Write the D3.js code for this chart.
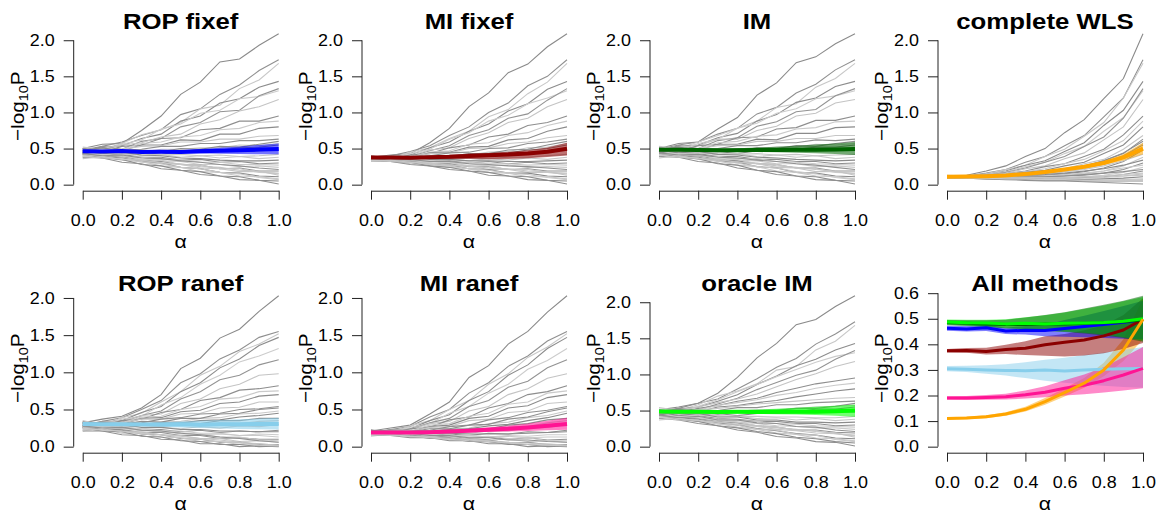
<!DOCTYPE html>
<html>
<head>
<meta charset="utf-8">
<script src="https://cdn.jsdelivr.net/npm/d3@7"></script>
<style>
  body { margin: 0; background: #fff; }
  text { font-family: "Liberation Sans", Arial, sans-serif; fill: #000; }
</style>
</head>
<body>
<svg id="chart" width="1162" height="516"></svg>
<script>
// alpha grid shared by every series
const alphas = [0, 0.1, 0.2, 0.3, 0.4, 0.5, 0.6, 0.7, 0.8, 0.9, 1.0];

const methods = ["ROP fixef", "MI fixef", "IM", "complete WLS", "ROP ranef", "MI ranef", "oracle IM"];

// mean -log10 P per method, and its band
const meanRopFixef = [0.463, 0.460, 0.465, 0.452, 0.455, 0.454, 0.462, 0.470, 0.478, 0.486, 0.495];
const lowRopFixef  = [0.453, 0.450, 0.452, 0.440, 0.438, 0.432, 0.430, 0.428, 0.425, 0.422, 0.420];
const highRopFixef = [0.473, 0.472, 0.478, 0.465, 0.472, 0.476, 0.495, 0.512, 0.530, 0.550, 0.570];

const meanMiFixef = [0.375, 0.376, 0.372, 0.380, 0.385, 0.398, 0.408, 0.417, 0.433, 0.456, 0.498];
const lowMiFixef  = [0.368, 0.367, 0.360, 0.362, 0.358, 0.355, 0.352, 0.356, 0.365, 0.382, 0.405];
const highMiFixef = [0.382, 0.386, 0.387, 0.398, 0.412, 0.432, 0.440, 0.455, 0.475, 0.515, 0.580];

const meanIm = [0.485, 0.482, 0.480, 0.478, 0.478, 0.480, 0.480, 0.482, 0.484, 0.488, 0.495];
const lowIm  = [0.475, 0.472, 0.468, 0.462, 0.458, 0.452, 0.448, 0.442, 0.435, 0.425, 0.410];
const highIm = [0.495, 0.494, 0.494, 0.496, 0.505, 0.515, 0.525, 0.540, 0.555, 0.570, 0.590];

const meanWls = [0.110, 0.112, 0.117, 0.128, 0.146, 0.176, 0.211, 0.248, 0.300, 0.378, 0.498];
const lowWls  = [0.106, 0.107, 0.111, 0.121, 0.137, 0.164, 0.196, 0.230, 0.275, 0.335, 0.420];
const highWls = [0.115, 0.117, 0.123, 0.135, 0.156, 0.190, 0.228, 0.268, 0.328, 0.420, 0.580];

const meanRopRanef = [0.305, 0.303, 0.300, 0.298, 0.297, 0.300, 0.296, 0.300, 0.303, 0.305, 0.306];
const lowRopRanef  = [0.295, 0.292, 0.285, 0.278, 0.268, 0.258, 0.250, 0.243, 0.238, 0.233, 0.230];
const highRopRanef = [0.315, 0.316, 0.318, 0.322, 0.330, 0.340, 0.348, 0.358, 0.368, 0.378, 0.390];

const meanMiRanef = [0.190, 0.190, 0.192, 0.195, 0.203, 0.213, 0.228, 0.240, 0.258, 0.280, 0.306];
const lowMiRanef  = [0.183, 0.182, 0.183, 0.184, 0.188, 0.193, 0.200, 0.205, 0.212, 0.220, 0.228];
const highMiRanef = [0.197, 0.198, 0.202, 0.207, 0.220, 0.236, 0.260, 0.282, 0.310, 0.350, 0.390];

const meanOracle = [0.487, 0.484, 0.483, 0.480, 0.482, 0.480, 0.482, 0.483, 0.485, 0.490, 0.500];
const lowOracle  = [0.477, 0.473, 0.470, 0.464, 0.460, 0.454, 0.450, 0.445, 0.438, 0.428, 0.415];
const highOracle = [0.497, 0.496, 0.496, 0.498, 0.506, 0.514, 0.524, 0.538, 0.552, 0.568, 0.585];

// individual simulation runs, one row per run
const ropFixefLines = [
  [0.50, 0.56, 0.57, 0.75, 0.95, 1.25, 1.42, 1.70, 1.74, 1.93, 2.09],
  [0.48, 0.53, 0.59, 0.68, 0.76, 0.97, 1.05, 1.25, 1.38, 1.58, 1.73],
  [0.52, 0.49, 0.57, 0.69, 0.76, 0.86, 1.05, 1.10, 1.33, 1.45, 1.68],
  [0.45, 0.51, 0.54, 0.64, 0.70, 0.88, 0.95, 1.13, 1.19, 1.35, 1.43],
  [0.50, 0.47, 0.56, 0.62, 0.77, 0.84, 0.99, 1.03, 1.19, 1.22, 1.30],
  [0.44, 0.53, 0.49, 0.60, 0.64, 0.80, 0.86, 1.01, 1.03, 1.23, 1.33],
  [0.47, 0.50, 0.55, 0.58, 0.66, 0.70, 0.84, 0.90, 1.02, 1.08, 1.18],
  [0.50, 0.45, 0.53, 0.55, 0.64, 0.65, 0.76, 0.78, 0.88, 0.88, 0.95],
  [0.42, 0.48, 0.49, 0.57, 0.59, 0.66, 0.68, 0.76, 0.78, 0.86, 0.88],
  [0.48, 0.51, 0.47, 0.55, 0.55, 0.62, 0.61, 0.70, 0.70, 0.78, 0.80],
  [0.45, 0.48, 0.49, 0.53, 0.54, 0.59, 0.59, 0.63, 0.63, 0.67, 0.68],
  [0.50, 0.47, 0.48, 0.49, 0.53, 0.53, 0.57, 0.57, 0.61, 0.61, 0.63],
  [0.46, 0.44, 0.49, 0.45, 0.49, 0.49, 0.51, 0.51, 0.55, 0.54, 0.57],
  [0.43, 0.46, 0.43, 0.45, 0.42, 0.46, 0.45, 0.46, 0.46, 0.47, 0.48],
  [0.48, 0.43, 0.44, 0.40, 0.42, 0.38, 0.40, 0.37, 0.39, 0.36, 0.38],
  [0.45, 0.41, 0.42, 0.38, 0.38, 0.34, 0.35, 0.31, 0.32, 0.29, 0.30],
  [0.40, 0.43, 0.38, 0.38, 0.33, 0.32, 0.28, 0.28, 0.25, 0.26, 0.24],
  [0.42, 0.39, 0.39, 0.34, 0.32, 0.28, 0.27, 0.22, 0.23, 0.19, 0.19],
  [0.38, 0.41, 0.36, 0.34, 0.29, 0.28, 0.23, 0.22, 0.18, 0.18, 0.15],
  [0.44, 0.39, 0.37, 0.32, 0.30, 0.24, 0.22, 0.17, 0.16, 0.12, 0.11],
  [0.40, 0.39, 0.34, 0.32, 0.26, 0.24, 0.18, 0.17, 0.12, 0.11, 0.08],
  [0.42, 0.37, 0.35, 0.28, 0.26, 0.20, 0.18, 0.12, 0.11, 0.06, 0.05],
  [0.38, 0.37, 0.31, 0.29, 0.22, 0.20, 0.14, 0.12, 0.07, 0.06, 0.01],
  [0.46, 0.41, 0.40, 0.35, 0.34, 0.28, 0.27, 0.22, 0.22, 0.17, 0.16],
  [0.44, 0.47, 0.45, 0.48, 0.46, 0.50, 0.49, 0.53, 0.52, 0.56, 0.60],
  [0.41, 0.44, 0.42, 0.43, 0.41, 0.42, 0.40, 0.41, 0.39, 0.40, 0.42],
  [0.47, 0.43, 0.45, 0.41, 0.40, 0.37, 0.36, 0.34, 0.33, 0.33, 0.34],
  [0.39, 0.42, 0.39, 0.38, 0.35, 0.35, 0.31, 0.31, 0.28, 0.28, 0.27],
  [0.43, 0.40, 0.41, 0.37, 0.36, 0.33, 0.31, 0.28, 0.26, 0.23, 0.21],
  [0.36, 0.39, 0.35, 0.34, 0.30, 0.29, 0.25, 0.24, 0.20, 0.19, 0.13],
  [0.48, 0.46, 0.47, 0.45, 0.47, 0.46, 0.49, 0.48, 0.51, 0.52, 0.55],
  [0.40, 0.37, 0.36, 0.31, 0.29, 0.24, 0.22, 0.17, 0.15, 0.10, 0.07]
];

const miFixefLines = [
  [0.38, 0.41, 0.43, 0.58, 0.78, 1.08, 1.27, 1.55, 1.67, 1.91, 2.09],
  [0.36, 0.40, 0.46, 0.54, 0.68, 0.80, 1.00, 1.13, 1.37, 1.50, 1.73],
  [0.40, 0.37, 0.45, 0.51, 0.64, 0.74, 0.94, 1.04, 1.26, 1.42, 1.68],
  [0.35, 0.39, 0.41, 0.51, 0.59, 0.74, 0.84, 1.02, 1.12, 1.32, 1.43],
  [0.39, 0.36, 0.43, 0.49, 0.63, 0.72, 0.88, 0.96, 1.12, 1.20, 1.30],
  [0.34, 0.40, 0.39, 0.47, 0.54, 0.68, 0.76, 0.92, 0.98, 1.17, 1.33],
  [0.37, 0.39, 0.40, 0.48, 0.51, 0.64, 0.72, 0.86, 0.92, 1.08, 1.18],
  [0.40, 0.35, 0.41, 0.43, 0.51, 0.55, 0.66, 0.70, 0.82, 0.86, 0.95],
  [0.33, 0.38, 0.38, 0.45, 0.47, 0.56, 0.58, 0.68, 0.72, 0.82, 0.88],
  [0.38, 0.39, 0.37, 0.44, 0.45, 0.52, 0.53, 0.62, 0.64, 0.74, 0.80],
  [0.36, 0.38, 0.39, 0.43, 0.44, 0.50, 0.51, 0.57, 0.59, 0.65, 0.68],
  [0.39, 0.37, 0.39, 0.40, 0.44, 0.45, 0.50, 0.51, 0.57, 0.59, 0.63],
  [0.37, 0.35, 0.39, 0.37, 0.41, 0.41, 0.45, 0.46, 0.51, 0.52, 0.57],
  [0.35, 0.37, 0.34, 0.37, 0.36, 0.39, 0.39, 0.42, 0.42, 0.46, 0.48],
  [0.38, 0.34, 0.36, 0.33, 0.35, 0.33, 0.36, 0.34, 0.37, 0.35, 0.38],
  [0.36, 0.33, 0.35, 0.32, 0.33, 0.30, 0.32, 0.29, 0.31, 0.29, 0.30],
  [0.33, 0.36, 0.32, 0.33, 0.29, 0.29, 0.26, 0.27, 0.24, 0.25, 0.24],
  [0.35, 0.32, 0.33, 0.29, 0.29, 0.25, 0.25, 0.21, 0.22, 0.19, 0.19],
  [0.32, 0.35, 0.31, 0.30, 0.26, 0.26, 0.21, 0.21, 0.17, 0.17, 0.15],
  [0.36, 0.33, 0.32, 0.28, 0.27, 0.22, 0.21, 0.16, 0.16, 0.12, 0.11],
  [0.34, 0.33, 0.29, 0.29, 0.24, 0.22, 0.17, 0.16, 0.11, 0.11, 0.08],
  [0.35, 0.32, 0.31, 0.26, 0.24, 0.19, 0.17, 0.12, 0.11, 0.06, 0.05],
  [0.33, 0.32, 0.28, 0.26, 0.21, 0.19, 0.13, 0.12, 0.07, 0.06, 0.01],
  [0.38, 0.35, 0.35, 0.31, 0.31, 0.26, 0.26, 0.21, 0.21, 0.17, 0.16],
  [0.36, 0.38, 0.37, 0.40, 0.39, 0.43, 0.43, 0.48, 0.49, 0.55, 0.60],
  [0.34, 0.36, 0.35, 0.36, 0.35, 0.37, 0.36, 0.38, 0.38, 0.40, 0.42],
  [0.39, 0.36, 0.38, 0.35, 0.35, 0.33, 0.33, 0.32, 0.32, 0.33, 0.34],
  [0.33, 0.35, 0.33, 0.33, 0.31, 0.31, 0.29, 0.29, 0.27, 0.28, 0.27],
  [0.36, 0.34, 0.35, 0.32, 0.32, 0.29, 0.28, 0.26, 0.25, 0.23, 0.21],
  [0.32, 0.34, 0.31, 0.30, 0.27, 0.26, 0.23, 0.22, 0.19, 0.18, 0.13],
  [0.38, 0.37, 0.38, 0.38, 0.40, 0.40, 0.43, 0.44, 0.48, 0.50, 0.55],
  [0.34, 0.32, 0.31, 0.28, 0.26, 0.22, 0.20, 0.16, 0.14, 0.10, 0.07]
];

const imLines = [
  [0.50, 0.57, 0.59, 0.77, 0.93, 1.24, 1.41, 1.69, 1.77, 1.95, 2.09],
  [0.49, 0.55, 0.59, 0.70, 0.78, 0.98, 1.07, 1.27, 1.39, 1.59, 1.73],
  [0.53, 0.50, 0.59, 0.68, 0.78, 0.88, 1.07, 1.12, 1.35, 1.47, 1.68],
  [0.46, 0.53, 0.55, 0.65, 0.71, 0.88, 0.97, 1.14, 1.20, 1.36, 1.43],
  [0.51, 0.48, 0.57, 0.63, 0.78, 0.85, 0.99, 1.05, 1.19, 1.23, 1.30],
  [0.45, 0.54, 0.50, 0.61, 0.65, 0.81, 0.87, 1.01, 1.04, 1.23, 1.33],
  [0.48, 0.52, 0.54, 0.63, 0.63, 0.75, 0.81, 0.95, 0.99, 1.13, 1.18],
  [0.51, 0.46, 0.54, 0.56, 0.65, 0.66, 0.77, 0.79, 0.89, 0.89, 0.95],
  [0.43, 0.49, 0.50, 0.58, 0.60, 0.67, 0.69, 0.77, 0.79, 0.87, 0.88],
  [0.49, 0.52, 0.48, 0.56, 0.56, 0.63, 0.62, 0.71, 0.71, 0.79, 0.80],
  [0.46, 0.49, 0.50, 0.54, 0.55, 0.60, 0.60, 0.64, 0.64, 0.68, 0.68],
  [0.51, 0.48, 0.49, 0.50, 0.54, 0.54, 0.58, 0.58, 0.62, 0.61, 0.63],
  [0.47, 0.45, 0.50, 0.46, 0.50, 0.50, 0.52, 0.52, 0.56, 0.55, 0.57],
  [0.44, 0.47, 0.44, 0.46, 0.43, 0.47, 0.46, 0.47, 0.47, 0.48, 0.48],
  [0.49, 0.44, 0.45, 0.41, 0.43, 0.39, 0.41, 0.38, 0.40, 0.36, 0.38],
  [0.46, 0.42, 0.43, 0.39, 0.39, 0.35, 0.35, 0.32, 0.32, 0.29, 0.30],
  [0.41, 0.44, 0.39, 0.39, 0.34, 0.33, 0.29, 0.29, 0.25, 0.26, 0.24],
  [0.43, 0.40, 0.40, 0.35, 0.33, 0.29, 0.28, 0.23, 0.23, 0.19, 0.19],
  [0.39, 0.42, 0.37, 0.35, 0.30, 0.29, 0.24, 0.23, 0.18, 0.18, 0.15],
  [0.45, 0.40, 0.38, 0.33, 0.31, 0.25, 0.23, 0.17, 0.16, 0.12, 0.11],
  [0.41, 0.40, 0.35, 0.33, 0.27, 0.25, 0.19, 0.17, 0.12, 0.11, 0.08],
  [0.43, 0.38, 0.36, 0.29, 0.27, 0.20, 0.18, 0.12, 0.11, 0.06, 0.05],
  [0.39, 0.38, 0.32, 0.30, 0.23, 0.20, 0.14, 0.12, 0.07, 0.06, 0.01],
  [0.47, 0.42, 0.41, 0.36, 0.35, 0.29, 0.28, 0.23, 0.22, 0.17, 0.16],
  [0.45, 0.48, 0.46, 0.49, 0.47, 0.51, 0.50, 0.54, 0.53, 0.57, 0.60],
  [0.42, 0.45, 0.43, 0.44, 0.42, 0.43, 0.41, 0.42, 0.40, 0.41, 0.42],
  [0.48, 0.44, 0.46, 0.42, 0.41, 0.38, 0.37, 0.35, 0.34, 0.33, 0.34],
  [0.40, 0.43, 0.40, 0.39, 0.36, 0.36, 0.32, 0.31, 0.29, 0.28, 0.27],
  [0.44, 0.41, 0.42, 0.38, 0.37, 0.34, 0.32, 0.29, 0.27, 0.24, 0.21],
  [0.37, 0.40, 0.36, 0.35, 0.31, 0.30, 0.26, 0.24, 0.21, 0.19, 0.13],
  [0.49, 0.47, 0.48, 0.46, 0.48, 0.47, 0.50, 0.49, 0.52, 0.52, 0.55],
  [0.41, 0.38, 0.37, 0.32, 0.30, 0.25, 0.23, 0.18, 0.15, 0.10, 0.07]
];

const wlsLines = [
  [0.12, 0.13, 0.19, 0.26, 0.39, 0.50, 0.72, 0.90, 1.19, 1.47, 2.09],
  [0.11, 0.12, 0.16, 0.21, 0.31, 0.39, 0.54, 0.68, 0.94, 1.20, 1.73],
  [0.13, 0.12, 0.15, 0.21, 0.27, 0.39, 0.49, 0.67, 0.86, 1.20, 1.68],
  [0.10, 0.12, 0.14, 0.19, 0.27, 0.33, 0.46, 0.58, 0.82, 1.03, 1.43],
  [0.12, 0.11, 0.14, 0.18, 0.25, 0.31, 0.43, 0.53, 0.74, 0.93, 1.30],
  [0.10, 0.12, 0.13, 0.17, 0.23, 0.31, 0.39, 0.53, 0.66, 0.92, 1.33],
  [0.11, 0.12, 0.13, 0.16, 0.22, 0.26, 0.36, 0.44, 0.62, 0.80, 1.18],
  [0.12, 0.11, 0.13, 0.15, 0.19, 0.25, 0.29, 0.39, 0.49, 0.69, 0.95],
  [0.09, 0.11, 0.12, 0.15, 0.18, 0.22, 0.29, 0.35, 0.47, 0.61, 0.88],
  [0.11, 0.12, 0.12, 0.14, 0.17, 0.20, 0.26, 0.31, 0.43, 0.55, 0.80],
  [0.11, 0.11, 0.12, 0.13, 0.15, 0.18, 0.22, 0.29, 0.35, 0.49, 0.68],
  [0.12, 0.11, 0.11, 0.13, 0.14, 0.17, 0.20, 0.25, 0.33, 0.43, 0.63],
  [0.11, 0.10, 0.11, 0.12, 0.13, 0.15, 0.18, 0.22, 0.28, 0.38, 0.57],
  [0.10, 0.11, 0.10, 0.11, 0.12, 0.13, 0.15, 0.18, 0.23, 0.32, 0.48],
  [0.12, 0.10, 0.10, 0.10, 0.11, 0.12, 0.13, 0.15, 0.19, 0.26, 0.38],
  [0.11, 0.10, 0.10, 0.10, 0.10, 0.11, 0.12, 0.13, 0.16, 0.21, 0.30],
  [0.09, 0.10, 0.09, 0.09, 0.09, 0.10, 0.10, 0.11, 0.13, 0.17, 0.24],
  [0.10, 0.10, 0.09, 0.09, 0.09, 0.09, 0.09, 0.10, 0.11, 0.14, 0.19],
  [0.09, 0.10, 0.09, 0.08, 0.08, 0.08, 0.08, 0.09, 0.10, 0.12, 0.15],
  [0.11, 0.10, 0.09, 0.08, 0.08, 0.07, 0.07, 0.07, 0.08, 0.09, 0.11],
  [0.10, 0.09, 0.09, 0.08, 0.07, 0.07, 0.06, 0.06, 0.06, 0.07, 0.08],
  [0.10, 0.09, 0.08, 0.08, 0.07, 0.06, 0.06, 0.05, 0.05, 0.05, 0.05],
  [0.09, 0.09, 0.08, 0.07, 0.06, 0.05, 0.05, 0.04, 0.03, 0.02, 0.01],
  [0.12, 0.11, 0.10, 0.10, 0.10, 0.10, 0.10, 0.11, 0.12, 0.14, 0.16],
  [0.11, 0.12, 0.12, 0.13, 0.15, 0.17, 0.21, 0.26, 0.33, 0.44, 0.60],
  [0.10, 0.11, 0.11, 0.12, 0.13, 0.15, 0.18, 0.21, 0.26, 0.33, 0.42],
  [0.12, 0.11, 0.12, 0.12, 0.13, 0.14, 0.16, 0.19, 0.22, 0.27, 0.34],
  [0.10, 0.11, 0.10, 0.11, 0.11, 0.12, 0.14, 0.16, 0.19, 0.23, 0.27],
  [0.11, 0.10, 0.11, 0.10, 0.11, 0.11, 0.12, 0.14, 0.16, 0.18, 0.21],
  [0.09, 0.10, 0.09, 0.10, 0.09, 0.10, 0.10, 0.11, 0.12, 0.12, 0.13],
  [0.12, 0.12, 0.13, 0.13, 0.15, 0.16, 0.20, 0.24, 0.30, 0.40, 0.55],
  [0.10, 0.09, 0.09, 0.08, 0.08, 0.07, 0.07, 0.06, 0.06, 0.06, 0.07]
];

const ropRanefLines = [
  [0.32, 0.37, 0.41, 0.52, 0.70, 1.05, 1.19, 1.46, 1.58, 1.82, 2.03],
  [0.28, 0.34, 0.39, 0.50, 0.62, 0.86, 0.98, 1.18, 1.30, 1.47, 1.55],
  [0.35, 0.29, 0.39, 0.45, 0.60, 0.74, 0.96, 1.08, 1.28, 1.38, 1.52],
  [0.26, 0.33, 0.35, 0.46, 0.54, 0.74, 0.86, 1.06, 1.18, 1.36, 1.47],
  [0.34, 0.29, 0.37, 0.41, 0.56, 0.66, 0.84, 0.96, 1.14, 1.22, 1.32],
  [0.25, 0.34, 0.33, 0.42, 0.48, 0.64, 0.74, 0.90, 0.96, 1.10, 1.17],
  [0.30, 0.33, 0.34, 0.42, 0.44, 0.58, 0.64, 0.78, 0.84, 0.96, 0.98],
  [0.33, 0.28, 0.35, 0.37, 0.46, 0.50, 0.62, 0.66, 0.76, 0.78, 0.82],
  [0.22, 0.31, 0.32, 0.40, 0.41, 0.50, 0.54, 0.64, 0.66, 0.74, 0.75],
  [0.31, 0.33, 0.30, 0.38, 0.39, 0.47, 0.49, 0.58, 0.60, 0.68, 0.70],
  [0.28, 0.31, 0.32, 0.37, 0.37, 0.44, 0.45, 0.52, 0.53, 0.60, 0.60],
  [0.33, 0.30, 0.31, 0.32, 0.37, 0.39, 0.44, 0.45, 0.50, 0.51, 0.54],
  [0.29, 0.27, 0.32, 0.29, 0.33, 0.34, 0.38, 0.39, 0.44, 0.45, 0.48],
  [0.26, 0.29, 0.26, 0.29, 0.28, 0.32, 0.31, 0.35, 0.35, 0.38, 0.38],
  [0.31, 0.26, 0.27, 0.24, 0.26, 0.24, 0.27, 0.25, 0.28, 0.27, 0.30],
  [0.28, 0.25, 0.26, 0.22, 0.23, 0.20, 0.22, 0.19, 0.21, 0.20, 0.22],
  [0.23, 0.27, 0.22, 0.23, 0.19, 0.19, 0.16, 0.17, 0.15, 0.17, 0.16],
  [0.26, 0.23, 0.23, 0.19, 0.19, 0.15, 0.15, 0.11, 0.12, 0.10, 0.10],
  [0.21, 0.25, 0.20, 0.20, 0.16, 0.15, 0.11, 0.11, 0.07, 0.08, 0.06],
  [0.28, 0.23, 0.22, 0.17, 0.16, 0.11, 0.10, 0.06, 0.06, 0.03, 0.03],
  [0.24, 0.23, 0.18, 0.18, 0.13, 0.12, 0.07, 0.07, 0.03, 0.04, 0.02],
  [0.25, 0.21, 0.20, 0.14, 0.13, 0.08, 0.07, 0.03, 0.03, 0.00, 0.01],
  [0.21, 0.21, 0.16, 0.15, 0.10, 0.09, 0.04, 0.04, 0.00, 0.01, 0.00],
  [0.30, 0.26, 0.25, 0.21, 0.21, 0.17, 0.17, 0.13, 0.13, 0.09, 0.08],
  [0.29, 0.32, 0.30, 0.34, 0.33, 0.38, 0.38, 0.44, 0.45, 0.50, 0.52],
  [0.26, 0.29, 0.27, 0.29, 0.27, 0.30, 0.29, 0.32, 0.31, 0.34, 0.35],
  [0.32, 0.28, 0.30, 0.26, 0.26, 0.23, 0.23, 0.21, 0.21, 0.20, 0.20],
  [0.24, 0.27, 0.24, 0.24, 0.21, 0.21, 0.18, 0.18, 0.15, 0.15, 0.13],
  [0.28, 0.25, 0.26, 0.22, 0.21, 0.18, 0.16, 0.13, 0.11, 0.08, 0.06],
  [0.22, 0.24, 0.20, 0.19, 0.16, 0.14, 0.11, 0.09, 0.06, 0.04, 0.02],
  [0.31, 0.30, 0.31, 0.30, 0.32, 0.32, 0.35, 0.36, 0.40, 0.42, 0.45],
  [0.25, 0.22, 0.21, 0.18, 0.16, 0.12, 0.10, 0.07, 0.05, 0.02, 0.01]
];

const miRanefLines = [
  [0.21, 0.25, 0.29, 0.44, 0.60, 0.93, 1.09, 1.38, 1.55, 1.81, 2.03],
  [0.19, 0.23, 0.27, 0.40, 0.50, 0.72, 0.86, 1.08, 1.22, 1.42, 1.55],
  [0.23, 0.19, 0.28, 0.35, 0.50, 0.62, 0.84, 0.98, 1.20, 1.34, 1.52],
  [0.17, 0.22, 0.24, 0.35, 0.43, 0.62, 0.74, 0.96, 1.10, 1.32, 1.47],
  [0.22, 0.19, 0.26, 0.31, 0.45, 0.54, 0.72, 0.84, 1.04, 1.16, 1.32],
  [0.16, 0.23, 0.23, 0.32, 0.38, 0.54, 0.62, 0.80, 0.88, 1.06, 1.17],
  [0.20, 0.22, 0.23, 0.31, 0.34, 0.48, 0.54, 0.70, 0.78, 0.92, 0.98],
  [0.22, 0.18, 0.24, 0.26, 0.36, 0.40, 0.52, 0.58, 0.70, 0.74, 0.82],
  [0.15, 0.21, 0.21, 0.29, 0.31, 0.41, 0.45, 0.57, 0.60, 0.72, 0.75],
  [0.21, 0.22, 0.20, 0.27, 0.29, 0.38, 0.41, 0.52, 0.55, 0.66, 0.70],
  [0.19, 0.21, 0.21, 0.26, 0.27, 0.35, 0.37, 0.46, 0.48, 0.58, 0.60],
  [0.22, 0.20, 0.21, 0.22, 0.27, 0.29, 0.36, 0.39, 0.46, 0.49, 0.54],
  [0.20, 0.18, 0.22, 0.20, 0.24, 0.25, 0.31, 0.33, 0.39, 0.42, 0.48],
  [0.17, 0.20, 0.17, 0.20, 0.20, 0.24, 0.24, 0.29, 0.31, 0.36, 0.38],
  [0.21, 0.17, 0.19, 0.17, 0.19, 0.18, 0.21, 0.21, 0.25, 0.26, 0.30],
  [0.19, 0.17, 0.18, 0.15, 0.17, 0.15, 0.18, 0.17, 0.20, 0.19, 0.22],
  [0.15, 0.18, 0.15, 0.16, 0.13, 0.15, 0.13, 0.15, 0.14, 0.16, 0.16],
  [0.18, 0.16, 0.17, 0.13, 0.14, 0.11, 0.13, 0.10, 0.12, 0.09, 0.10],
  [0.14, 0.17, 0.14, 0.14, 0.11, 0.12, 0.09, 0.10, 0.07, 0.08, 0.06],
  [0.19, 0.16, 0.16, 0.12, 0.12, 0.09, 0.09, 0.05, 0.06, 0.03, 0.03],
  [0.17, 0.17, 0.13, 0.13, 0.09, 0.09, 0.06, 0.06, 0.03, 0.04, 0.02],
  [0.18, 0.15, 0.15, 0.11, 0.11, 0.07, 0.07, 0.03, 0.03, 0.00, 0.01],
  [0.15, 0.15, 0.12, 0.12, 0.08, 0.08, 0.04, 0.04, 0.00, 0.01, 0.00],
  [0.21, 0.18, 0.18, 0.15, 0.16, 0.13, 0.14, 0.11, 0.12, 0.08, 0.08],
  [0.19, 0.21, 0.20, 0.24, 0.24, 0.29, 0.30, 0.37, 0.40, 0.47, 0.52],
  [0.17, 0.19, 0.18, 0.20, 0.19, 0.22, 0.22, 0.26, 0.27, 0.32, 0.35],
  [0.22, 0.19, 0.20, 0.18, 0.18, 0.17, 0.17, 0.17, 0.18, 0.19, 0.20],
  [0.16, 0.18, 0.16, 0.16, 0.14, 0.15, 0.13, 0.14, 0.12, 0.13, 0.13],
  [0.20, 0.17, 0.18, 0.15, 0.15, 0.12, 0.12, 0.09, 0.09, 0.07, 0.06],
  [0.15, 0.16, 0.14, 0.13, 0.11, 0.10, 0.08, 0.06, 0.05, 0.03, 0.02],
  [0.21, 0.20, 0.21, 0.21, 0.23, 0.24, 0.28, 0.30, 0.35, 0.39, 0.45],
  [0.17, 0.15, 0.14, 0.12, 0.10, 0.08, 0.07, 0.05, 0.03, 0.02, 0.01]
];

const oracleLines = [
  [0.51, 0.55, 0.60, 0.74, 0.96, 1.23, 1.43, 1.69, 1.76, 1.94, 2.09],
  [0.49, 0.53, 0.60, 0.66, 0.80, 0.94, 1.10, 1.22, 1.42, 1.56, 1.73],
  [0.54, 0.50, 0.58, 0.70, 0.77, 0.87, 1.06, 1.11, 1.34, 1.46, 1.68],
  [0.46, 0.52, 0.55, 0.63, 0.72, 0.86, 0.98, 1.12, 1.21, 1.34, 1.43],
  [0.52, 0.48, 0.56, 0.65, 0.76, 0.86, 0.97, 1.07, 1.17, 1.25, 1.30],
  [0.45, 0.53, 0.51, 0.59, 0.67, 0.79, 0.89, 0.99, 1.06, 1.21, 1.33],
  [0.49, 0.51, 0.55, 0.61, 0.66, 0.73, 0.83, 0.93, 1.01, 1.11, 1.18],
  [0.51, 0.47, 0.53, 0.57, 0.63, 0.67, 0.75, 0.81, 0.87, 0.91, 0.95],
  [0.43, 0.48, 0.51, 0.57, 0.61, 0.65, 0.71, 0.75, 0.81, 0.85, 0.88],
  [0.49, 0.52, 0.48, 0.55, 0.57, 0.61, 0.64, 0.69, 0.73, 0.77, 0.80],
  [0.47, 0.48, 0.51, 0.53, 0.56, 0.59, 0.61, 0.63, 0.65, 0.67, 0.68],
  [0.51, 0.48, 0.49, 0.50, 0.54, 0.54, 0.58, 0.58, 0.61, 0.62, 0.63],
  [0.47, 0.46, 0.49, 0.47, 0.49, 0.51, 0.51, 0.53, 0.55, 0.56, 0.57],
  [0.44, 0.47, 0.44, 0.46, 0.43, 0.46, 0.46, 0.47, 0.47, 0.48, 0.48],
  [0.50, 0.44, 0.45, 0.41, 0.42, 0.39, 0.40, 0.37, 0.39, 0.36, 0.38],
  [0.46, 0.42, 0.43, 0.39, 0.38, 0.35, 0.35, 0.32, 0.32, 0.29, 0.30],
  [0.41, 0.43, 0.40, 0.38, 0.34, 0.32, 0.29, 0.28, 0.26, 0.26, 0.24],
  [0.43, 0.40, 0.39, 0.35, 0.33, 0.29, 0.27, 0.23, 0.23, 0.20, 0.19],
  [0.39, 0.41, 0.37, 0.34, 0.30, 0.28, 0.24, 0.22, 0.19, 0.18, 0.15],
  [0.45, 0.40, 0.38, 0.33, 0.30, 0.25, 0.22, 0.18, 0.16, 0.12, 0.11],
  [0.41, 0.39, 0.35, 0.32, 0.27, 0.24, 0.19, 0.17, 0.12, 0.11, 0.08],
  [0.43, 0.38, 0.35, 0.29, 0.26, 0.21, 0.18, 0.13, 0.11, 0.07, 0.05],
  [0.39, 0.37, 0.32, 0.29, 0.23, 0.20, 0.14, 0.12, 0.07, 0.06, 0.01],
  [0.47, 0.42, 0.40, 0.36, 0.34, 0.29, 0.27, 0.23, 0.22, 0.18, 0.16],
  [0.45, 0.47, 0.46, 0.48, 0.47, 0.50, 0.50, 0.53, 0.53, 0.56, 0.60],
  [0.42, 0.44, 0.43, 0.43, 0.42, 0.42, 0.41, 0.41, 0.40, 0.40, 0.42],
  [0.48, 0.43, 0.46, 0.41, 0.41, 0.37, 0.37, 0.34, 0.34, 0.33, 0.34],
  [0.40, 0.42, 0.40, 0.38, 0.36, 0.35, 0.32, 0.31, 0.29, 0.28, 0.27],
  [0.44, 0.40, 0.42, 0.37, 0.37, 0.33, 0.32, 0.28, 0.27, 0.23, 0.21],
  [0.37, 0.39, 0.36, 0.34, 0.31, 0.29, 0.26, 0.24, 0.21, 0.19, 0.13],
  [0.49, 0.46, 0.48, 0.45, 0.48, 0.46, 0.50, 0.48, 0.52, 0.52, 0.55],
  [0.41, 0.37, 0.37, 0.31, 0.30, 0.24, 0.23, 0.17, 0.16, 0.10, 0.07]
];

const xTicks = [0, 0.2, 0.4, 0.6, 0.8, 1.0];
const yTicksRuns = [0, 0.5, 1.0, 1.5, 2.0];
const yTicksAll = [0, 0.1, 0.2, 0.3, 0.4, 0.5, 0.6];

// styles / layout
const methodColors = {
  "ROP fixef": "#0000ff", "MI fixef": "#8b0000", "IM": "#006400", "complete WLS": "#ffa500",
  "ROP ranef": "#87ceeb", "MI ranef": "#ff1493", "oracle IM": "#00ff00"
};
const greyShades = ["#8a8a8a", "#909090", "#c8c8c8", "#8c8c8c", "#cccccc", "#939393", "#c4c4c4", "#8e8e8e",
  "#cacaca", "#8b8b8b", "#c6c6c6", "#919191", "#c9c9c9", "#8d8d8d", "#c7c7c7", "#8f8f8f",
  "#cbcbcb", "#929292", "#c5c5c5", "#898989", "#c8c8c8", "#8c8c8c", "#909090", "#cacaca",
  "#8e8e8e", "#c6c6c6", "#8b8b8b", "#c9c9c9", "#909090", "#c4c4c4", "#8a8a8a", "#c8c8c8"];

const series = {
  "ROP fixef": { mean: meanRopFixef, low: lowRopFixef, high: highRopFixef, runs: ropFixefLines },
  "MI fixef": { mean: meanMiFixef, low: lowMiFixef, high: highMiFixef, runs: miFixefLines },
  "IM": { mean: meanIm, low: lowIm, high: highIm, runs: imLines },
  "complete WLS": { mean: meanWls, low: lowWls, high: highWls, runs: wlsLines },
  "ROP ranef": { mean: meanRopRanef, low: lowRopRanef, high: highRopRanef, runs: ropRanefLines },
  "MI ranef": { mean: meanMiRanef, low: lowMiRanef, high: highMiRanef, runs: miRanefLines },
  "oracle IM": { mean: meanOracle, low: lowOracle, high: highOracle, runs: oracleLines }
};

const svg = d3.select("#chart");
const stretch = 1.12;            // glyphs in the picture run a bit wide
const colX = [82.7, 371, 659, 947];
const rowTop = [27.7, 289.7];
const plotW = 196, plotH = 163;
const tickFont = 16;

function wideText(g, x, y, str, size, opts = {}) {
  return g.append("text")
    .attr("transform", `translate(${x},${y}) scale(${stretch},1)`)
    .attr("text-anchor", opts.anchor || "middle")
    .attr("font-size", size)
    .attr("font-weight", opts.weight || "normal")
    .text(str);
}

function panelFrame(col, row, title, yMax, yTicks) {
  const g = svg.append("g");
  const x = d3.scaleLinear().domain([0, 1]).range([colX[col], colX[col] + plotW]);
  const pad = 0.04 * yMax;
  const y = d3.scaleLinear().domain([-pad, yMax + pad]).range([rowTop[row] + plotH, rowTop[row]]);
  const axisY = rowTop[row] + plotH;
  const axisX = colX[col] - 9;

  const xa = g.append("g").attr("transform", `translate(0,${axisY})`)
    .call(d3.axisBottom(x).tickValues(xTicks).tickSize(9).tickSizeOuter(0).tickPadding(15)
      .tickFormat(d3.format(".1f")));
  const ya = g.append("g").attr("transform", `translate(${axisX},0)`)
    .call(d3.axisLeft(y).tickValues(yTicks).tickSize(10).tickSizeOuter(0).tickPadding(10)
      .tickFormat(d3.format(".1f")));
  ya.select(".domain").attr("d", `M-0,${y(yTicks[0])}V${y(yTicks[yTicks.length - 1])}`);
  [xa, ya].forEach(a => {
    a.attr("font-size", tickFont).attr("font-family", null);
    a.selectAll("path, line").attr("stroke", "#222");
    a.selectAll("text").attr("font-size", tickFont);
  });
  xa.selectAll("text").attr("transform", `scale(${stretch},1)`);
  ya.selectAll("text").attr("transform", `scale(${stretch},1)`).attr("x", -19 / stretch);

  const cx = colX[col] + plotW / 2;
  wideText(g, cx, rowTop[row] + 0.8, title, 23, { weight: "bold" });
  wideText(g, cx, axisY + 57, "α", 19);

  // rotated label, widened along its reading direction
  const lab = g.append("text")
    .attr("transform", `translate(${axisX - 50},${rowTop[row] + plotH / 2 - 3}) rotate(-90) scale(${stretch},1)`)
    .attr("text-anchor", "middle").attr("font-size", 18.5);
  lab.append("tspan").text("−log");
  lab.append("tspan").attr("font-size", 13).attr("dy", 4).text("10");
  lab.append("tspan").attr("dy", -4).text("P");

  return { g, x, y };
}

function bandArea(x, y, s) {
  return d3.area()
    .x((d, i) => x(alphas[i]))
    .y0((d, i) => y(s.low[i]))
    .y1((d, i) => y(s.high[i]))(s.mean);
}

function meanLine(x, y, s) {
  return d3.line().x((d, i) => x(alphas[i])).y(d => y(d))(s.mean);
}

// seven panels with individual runs
const layout = [
  ["ROP fixef", 0, 0], ["MI fixef", 1, 0], ["IM", 2, 0], ["complete WLS", 3, 0],
  ["ROP ranef", 0, 1], ["MI ranef", 1, 1], ["oracle IM", 2, 1]
];

layout.forEach(([name, col, row]) => {
  const s = series[name];
  const yMax = d3.max(s.runs, r => d3.max(r));
  const { g, x, y } = panelFrame(col, row, name, yMax, yTicksRuns);
  const runLine = d3.line().x((d, i) => x(alphas[i])).y(d => y(d));
  g.append("g").selectAll("path").data(s.runs).join("path")
    .attr("d", runLine)
    .attr("fill", "none")
    .attr("stroke", (d, i) => greyShades[i % greyShades.length])
    .attr("stroke-width", 1.1);
  g.append("path").attr("d", bandArea(x, y, s))
    .attr("fill", methodColors[name]).attr("fill-opacity", 0.55);
  g.append("path").attr("d", meanLine(x, y, s))
    .attr("fill", "none").attr("stroke", methodColors[name])
    .attr("stroke-width", 4).attr("stroke-linejoin", "round");
});

// summary panel
{
  const allMax = d3.max(methods, m => d3.max(series[m].high));
  const { g, x, y } = panelFrame(3, 1, "All methods", allMax, yTicksAll);
  const bandOrder = ["complete WLS", "ROP ranef", "MI ranef", "MI fixef", "ROP fixef", "oracle IM", "IM"];
  bandOrder.forEach(m => {
    g.append("path").attr("d", bandArea(x, y, series[m]))
      .attr("fill", methodColors[m]).attr("fill-opacity", 0.5);
  });
  const lineOrder = ["ROP fixef", "MI fixef", "IM", "ROP ranef", "MI ranef", "oracle IM", "complete WLS"];
  lineOrder.forEach(m => {
    g.append("path").attr("d", meanLine(x, y, series[m]))
      .attr("fill", "none").attr("stroke", methodColors[m])
      .attr("stroke-width", 3).attr("stroke-linejoin", "round");
  });
}
</script>
</body>
</html>
